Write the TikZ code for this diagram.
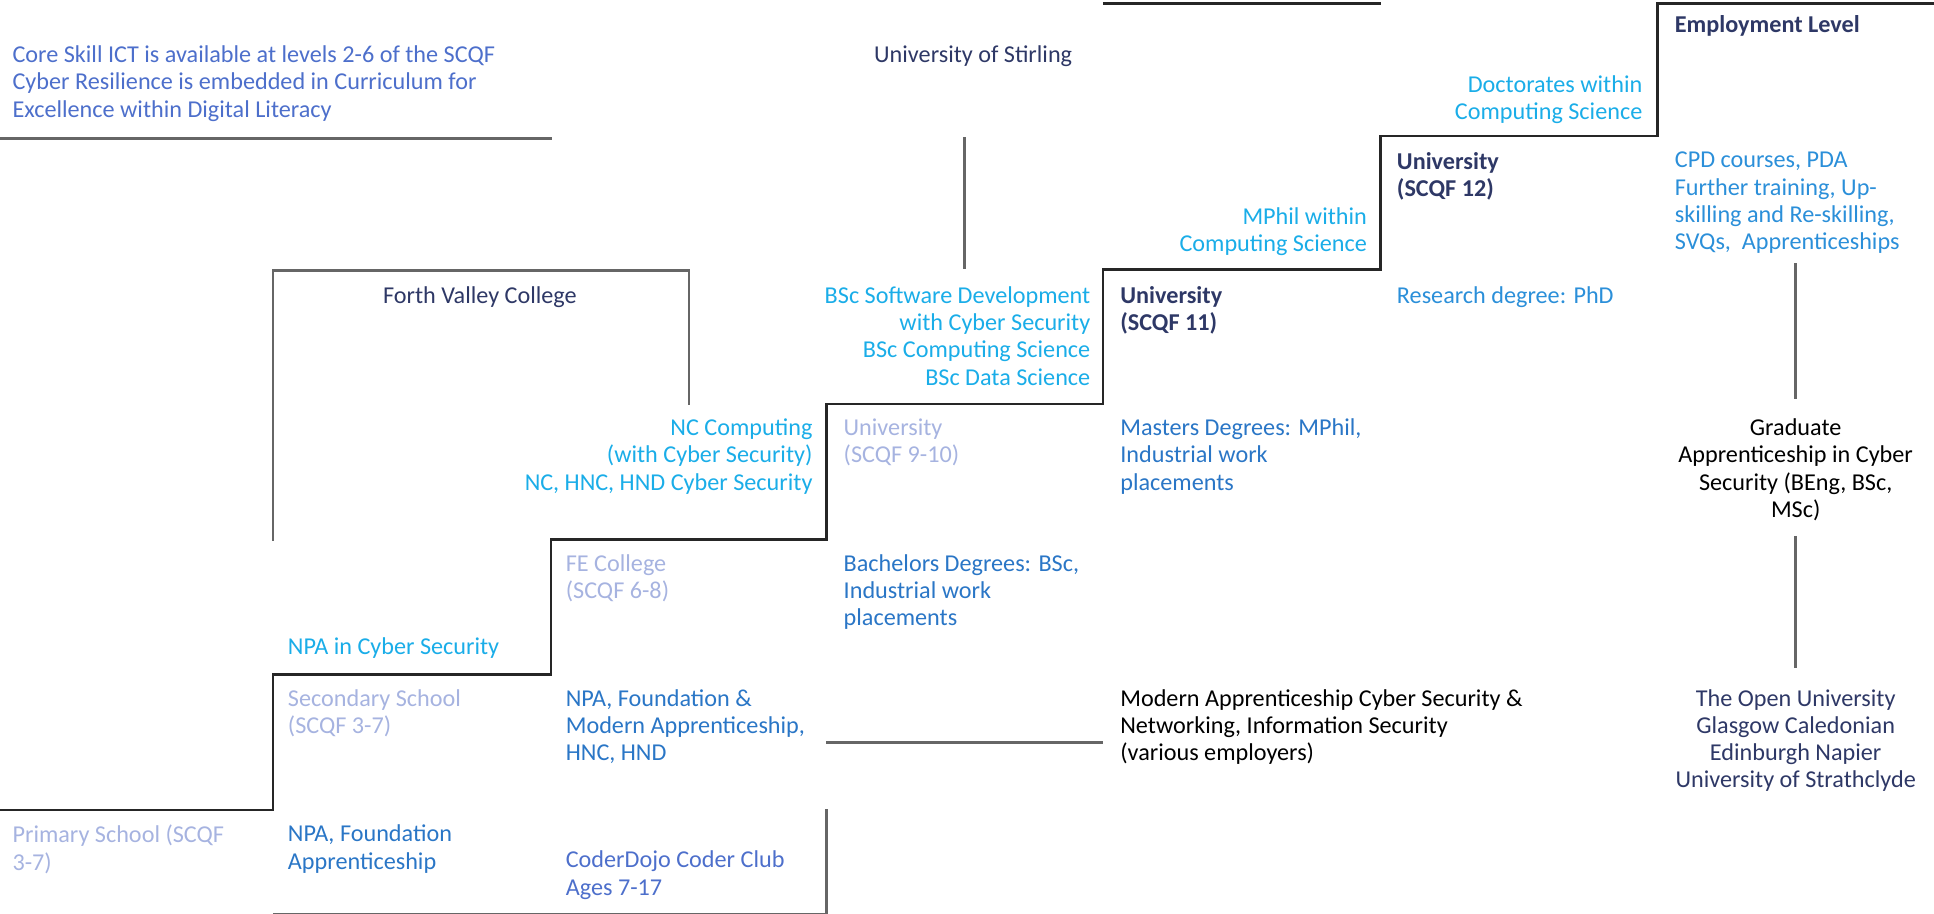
\documentclass[tikz,border=0pt]{standalone}
\usepackage{fontspec}
\setmainfont{Carlito}
\definecolor{cyanblue}{HTML}{1AADE8}
\definecolor{skyblue}{HTML}{2B8FD9}
\definecolor{midblue}{HTML}{2A76C6}
\definecolor{royal}{HTML}{4D6FCB}
\definecolor{lavender}{HTML}{A6B3E0}
\definecolor{navy}{HTML}{2E3866}
\definecolor{steps}{HTML}{262626}
\definecolor{rule}{HTML}{666666}

\begin{document}
\begin{tikzpicture}[x=1.235pt,y=-1.235pt,
	txt/.style={inner sep=0pt,anchor=north west,align=left,font=\fontsize{24.2}{27.2}\selectfont},
	rtxt/.style={txt,anchor=north east,align=right},
	ctxt/.style={txt,anchor=north,align=center},
	bold/.style={font=\fontsize{24.2}{27.2}\selectfont\bfseries},
	stair/.style={draw=steps,line width=2.6pt},
	bar/.style={draw=rule,line width=2.6pt}]
	\useasboundingbox (0,0) rectangle (1566,740);

	\coordinate (s0) at (0,656);
	\coordinate (s1) at (221,656);
	\coordinate (s2) at (221,546);
	\coordinate (s3) at (446,546);
	\coordinate (s4) at (446,437);
	\coordinate (s5) at (669,437);
	\coordinate (s6) at (669,327);
	\coordinate (s7) at (893,327);
	\coordinate (s8) at (893,218);
	\coordinate (s9) at (1118,218);
	\coordinate (s10) at (1118,110);
	\coordinate (s11) at (1342,110);
	\coordinate (s12) at (1342,3);
	\coordinate (s13) at (1566,3);
	\draw[stair] (s0) -- (s1) -- (s2) -- (s3) -- (s4) -- (s5) -- (s6) -- (s7) -- (s8) -- (s9) -- (s10) -- (s11) -- (s12) -- (s13);

	\coordinate (coreA) at (0,112);
	\coordinate (coreB) at (447,112);
	\coordinate (topA) at (893,3);
	\coordinate (topB) at (1118,3);
	\coordinate (fvA) at (221,438);
	\coordinate (fvB) at (221,219);
	\coordinate (fvC) at (558,219);
	\coordinate (fvD) at (558,328);
	\coordinate (usA) at (781,111);
	\coordinate (usB) at (781,218);
	\coordinate (emA) at (1454,213);
	\coordinate (emB) at (1454,323);
	\coordinate (emC) at (1454,434);
	\coordinate (emD) at (1454,541);
	\coordinate (maA) at (669,601);
	\coordinate (maB) at (893,601);
	\coordinate (cdA) at (221,740);
	\coordinate (cdB) at (669,740);
	\coordinate (cdC) at (669,655);
	\draw[bar] (coreA) -- (coreB);
	\draw[stair] (topA) -- (topB);
	\draw[bar] (fvA) -- (fvB) -- (fvC) -- (fvD);
	\draw[bar] (usA) -- (usB);
	\draw[bar] (emA) -- (emB);
	\draw[bar] (emC) -- (emD);
	\draw[bar] (maA) -- (maB);
	\draw[bar] (cdA) -- (cdB) -- (cdC);

	\node[txt,text=royal] (core) at (10,37) {Core Skill ICT is available at levels 2-6 of the SCQF\\Cyber Resilience is embedded in Curriculum for\\Excellence within Digital Literacy};
	\node[ctxt,text=navy] (stirling) at (788,37) {University of Stirling};
	\node[txt,bold,text=navy] (employ) at (1356,12) {Employment Level};
	\node[rtxt,text=cyanblue] (doct) at (1330,61) {Doctorates within\\Computing Science};
	\node[txt,bold,text=navy] (uni12) at (1131,123) {University\\(SCQF 12)};
	\node[txt,text=skyblue] (cpd) at (1356,123) {CPD courses, PDA\\Further training, Up-\\skilling and Re-skilling,\\SVQs,~ Apprenticeships};
	\node[rtxt,text=cyanblue] (mphil) at (1107,168) {MPhil within\\Computing Science};
	\node[txt,text=skyblue] (research) at (1131,232) {Research degree: PhD};
	\node[rtxt,text=cyanblue] (bsc) at (883,232) {BSc Software Development\\with Cyber Security\\BSc Computing Science\\BSc Data Science};
	\node[txt,bold,text=navy] (uni11) at (907,232) {University\\(SCQF 11)};
	\node[txt,text=navy] (fvc) at (310,232) {Forth Valley College};
	\node[txt,text=lavender] (uni910) at (683,339) {University\\(SCQF 9-10)};
	\node[txt,text=midblue] (masters) at (907,339) {Masters Degrees: MPhil,\\Industrial work\\placements};
	\node[rtxt,text=cyanblue] (nc) at (658,339) {NC Computing\\(with Cyber Security)\\NC, HNC, HND Cyber Security};
	\node[ctxt,text=black] (grad) at (1454,339) {Graduate\\Apprenticeship in Cyber\\Security (BEng, BSc,\\MSc)};
	\node[txt,text=lavender] (fe) at (458,449) {FE College\\(SCQF 6-8)};
	\node[txt,text=midblue] (bach) at (683,449) {Bachelors Degrees: BSc,\\Industrial work\\placements};
	\node[txt,text=cyanblue] (npacyber) at (233,516) {NPA in Cyber Security};
	\node[txt,text=lavender] (secondary) at (233,558) {Secondary School\\(SCQF 3-7)};
	\node[txt,text=midblue] (npafound) at (458,558) {NPA, Foundation \&\\Modern Apprenticeship,\\HNC, HND};
	\node[txt,text=black] (modern) at (907,558) {Modern Apprenticeship Cyber Security \&\\Networking, Information Security\\(various employers)};
	\node[ctxt,text=navy] (open) at (1454,558) {The Open University\\Glasgow Caledonian\\Edinburgh Napier\\University of Strathclyde};
	\node[txt,text=lavender] (primary) at (10,668) {Primary School (SCQF\\3-7)};
	\node[txt,text=midblue] (npaapp) at (233,668) {NPA, Foundation\\Apprenticeship};
	\node[txt,text=royal] (coder) at (458,689) {CoderDojo Coder Club\\Ages 7-17};
\end{tikzpicture}
\end{document}
